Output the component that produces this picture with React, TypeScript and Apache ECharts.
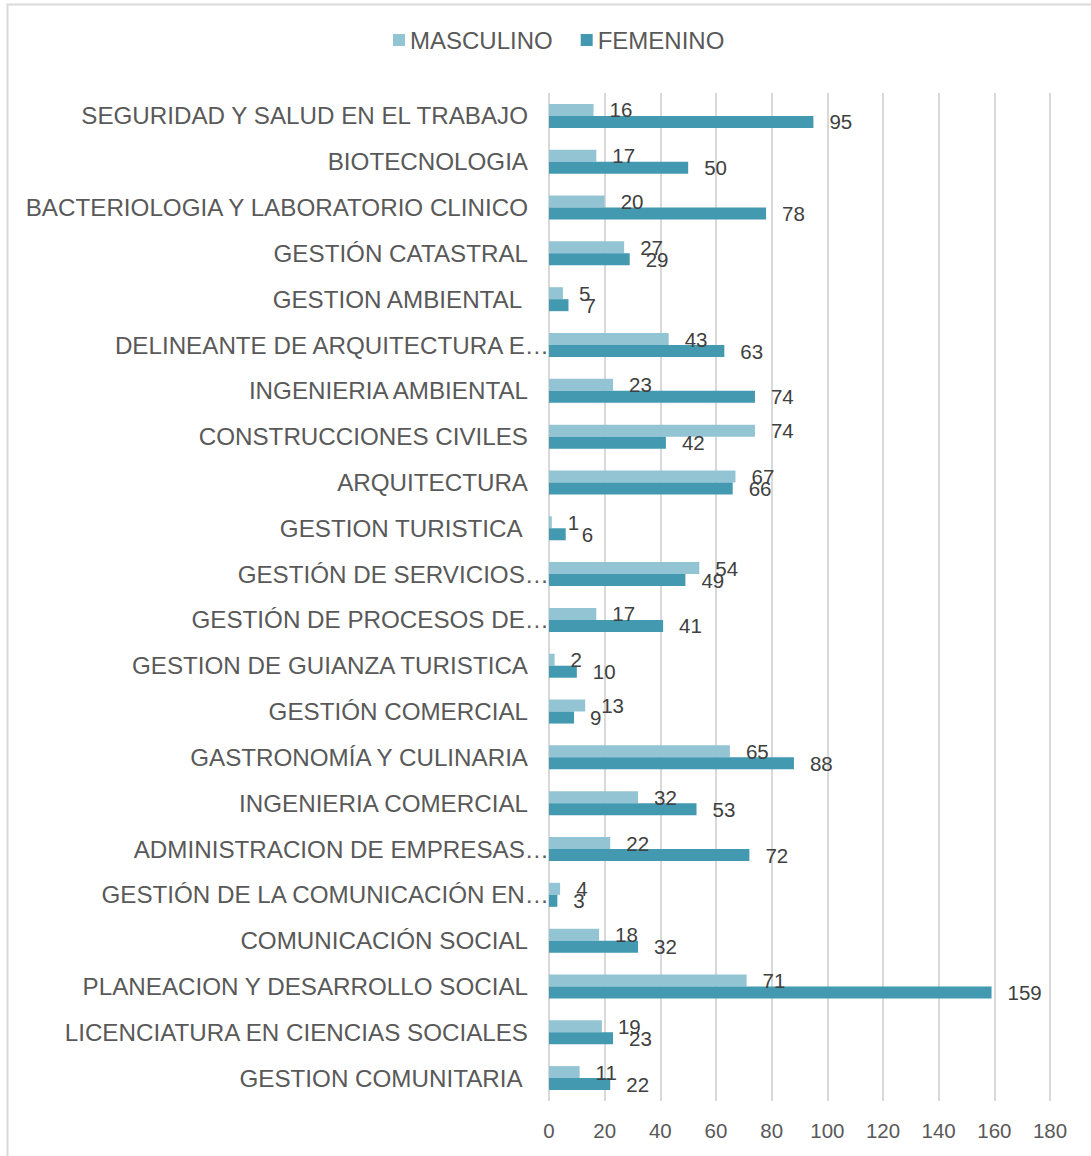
import React, { useEffect, useRef } from "react";
import * as echarts from "echarts";

const categories: string[] = [
  "SEGURIDAD Y SALUD EN EL TRABAJO",
  "BIOTECNOLOGIA",
  "BACTERIOLOGIA Y LABORATORIO CLINICO",
  "GESTIÓN CATASTRAL",
  "GESTION AMBIENTAL ",
  "DELINEANTE DE ARQUITECTURA E…",
  "INGENIERIA AMBIENTAL",
  "CONSTRUCCIONES CIVILES",
  "ARQUITECTURA",
  "GESTION TURISTICA ",
  "GESTIÓN DE SERVICIOS…",
  "GESTIÓN DE PROCESOS DE…",
  "GESTION DE GUIANZA TURISTICA",
  "GESTIÓN COMERCIAL",
  "GASTRONOMÍA Y CULINARIA",
  "INGENIERIA COMERCIAL",
  "ADMINISTRACION DE EMPRESAS…",
  "GESTIÓN DE LA COMUNICACIÓN EN…",
  "COMUNICACIÓN SOCIAL",
  "PLANEACION Y DESARROLLO SOCIAL",
  "LICENCIATURA EN CIENCIAS SOCIALES",
  "GESTION COMUNITARIA ",
];

const masculino: number[] = [16, 17, 20, 27, 5, 43, 23, 74, 67, 1, 54, 17, 2, 13, 65, 32, 22, 4, 18, 71, 19, 11];
const femenino: number[] = [95, 50, 78, 29, 7, 63, 74, 42, 66, 6, 49, 41, 10, 9, 88, 53, 72, 3, 32, 159, 23, 22];

const xTicks = { min: 0, max: 180, interval: 20 };

const FONT = "'Liberation Sans', Arial, sans-serif";

export default function App() {
  const ref = useRef<HTMLDivElement>(null);
  useEffect(() => {
    document.body.style.margin = "0";
    const chart = echarts.init(ref.current!, null, { renderer: "svg" });
    const labelStyle = {
      show: true,
      position: "right" as const,
      distance: 16,
      color: "#404040",
      fontSize: 20.5,
      fontFamily: FONT,
    };
    chart.setOption({
      animation: false,
      backgroundColor: "#ffffff",
      textStyle: { fontFamily: FONT },
      graphic: [
        {
          type: "rect",
          shape: { x: 7.5, y: 4.5, width: 1200, height: 1300 },
          style: { fill: "none", stroke: "#D9D9D9", lineWidth: 2 },
          silent: true,
        },
      ],
      legend: {
        top: 23,
        left: 388,
        icon: "rect",
        itemWidth: 12,
        itemHeight: 12,
        itemGap: 28,
        textStyle: { fontSize: 24, color: "#595959", fontFamily: FONT },
        data: ["MASCULINO", "FEMENINO"],
      },
      grid: { left: 549, right: 41, top: 93, bottom: 55, containLabel: false },
      xAxis: {
        type: "value",
        min: xTicks.min,
        max: xTicks.max,
        interval: xTicks.interval,
        axisLine: { show: false },
        axisTick: { show: false },
        axisLabel: { color: "#595959", fontSize: 20.5, fontFamily: FONT, margin: 19 },
        splitLine: { show: true, lineStyle: { color: "#D9D9D9", width: 2 } },
      },
      yAxis: {
        type: "category",
        inverse: true,
        data: categories,
        axisLine: { show: false },
        axisTick: { show: false },
        axisLabel: {
          margin: 0,
          color: "#595959",
          fontSize: 24.2,
          fontFamily: FONT,
          formatter: (v: string) => (v.endsWith("…") ? `{t|${v}}` : `{n|${v}}`),
          rich: {
            t: { fontSize: 24.2, color: "#595959", fontFamily: FONT, padding: [0, 0, 0, 0] },
            n: { fontSize: 24.2, color: "#595959", fontFamily: FONT, padding: [0, 21, 0, 0] },
          },
        },
      },
      series: [
        {
          name: "MASCULINO",
          type: "bar",
          data: masculino,
          barWidth: 12,
          barGap: "0%",
          itemStyle: { color: "#93C4D4" },
          label: labelStyle,
        },
        {
          name: "FEMENINO",
          type: "bar",
          data: femenino,
          barWidth: 12,
          barGap: "0%",
          itemStyle: { color: "#4299B0" },
          label: labelStyle,
        },
      ],
    });
    return () => chart.dispose();
  }, []);
  return <div ref={ref} style={{ width: 1091, height: 1156 }} />;
}
